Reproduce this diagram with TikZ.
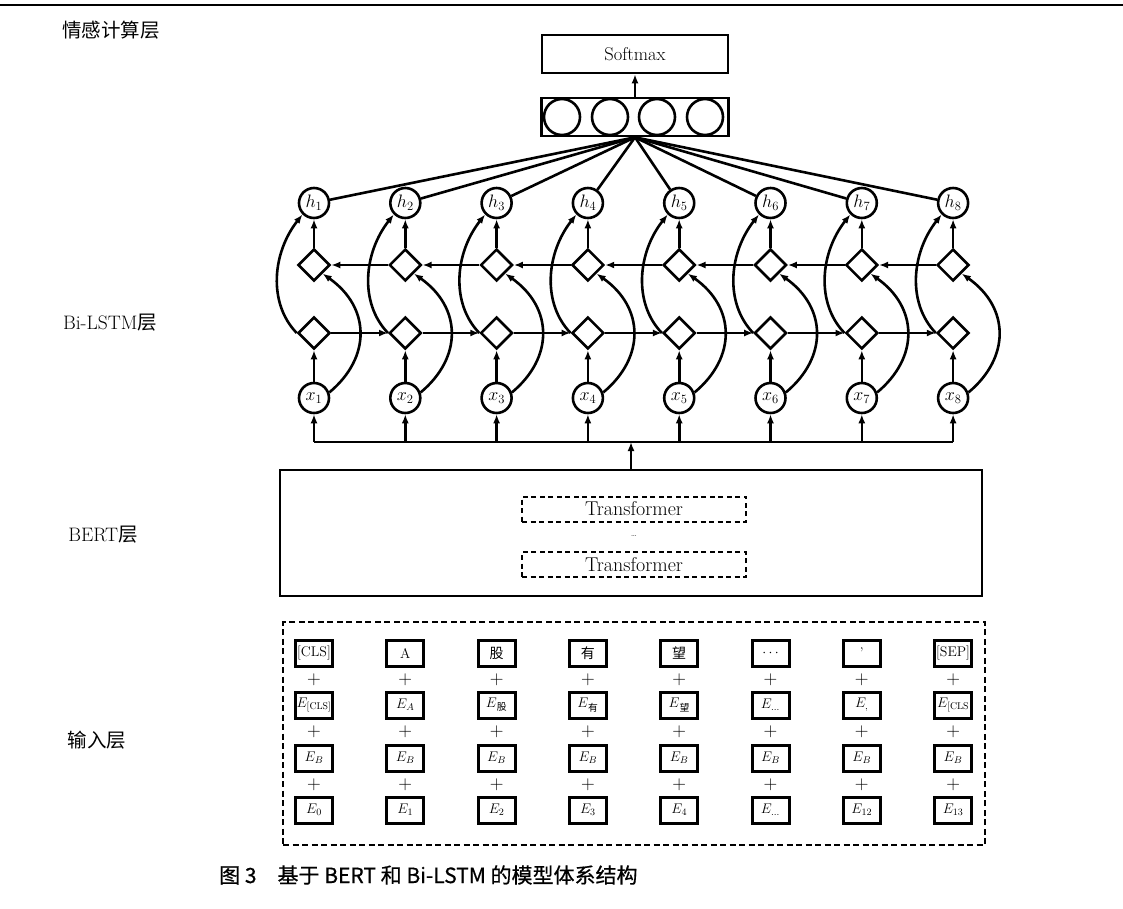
\RequirePackage{fix-cm}
\documentclass[tikz,border=0pt]{standalone}
\usepackage{fontspec}
\newfontfamily\cjk{Noto Sans CJK SC}
\newfontfamily\cjkcap{Noto Sans CJK SC}[FakeBold=0.6]
\usetikzlibrary{shapes.geometric,arrows.meta}
\tikzset{
  lw/.style={line width=2.6pt},
  arr/.style={lw,-{Latex[length=9pt,width=7pt]}},
  circnode/.style={circle,draw,lw,minimum size=30pt,inner sep=0pt,font=\fontsize{18}{18}\selectfont},
  dia/.style={diamond,draw,lw,minimum width=32pt,minimum height=32pt,inner sep=0pt},
  tok/.style={rectangle,draw,line width=3pt,minimum width=37pt,minimum height=26pt,inner sep=0pt,font=\fontsize{14}{14}\selectfont},
  plusnode/.style={inner sep=0pt,font=\fontsize{19}{19}\selectfont},
  lab/.style={font=\cjk\fontsize{19.5}{19.5}\selectfont},
  bigbox/.style={draw,lw,inner sep=0pt},
  dbox/.style={draw,line width=2pt,dash pattern=on 5pt off 3.5pt,inner sep=0pt},
}
\begin{document}
\begin{tikzpicture}[x=1pt,y=-1pt]
\useasboundingbox (0,0) rectangle (1123,908);
\fill[white] (0,0) rectangle (1123,908);
% top rule
\draw[line width=2.8pt] (0,5) -- (1123,5);
% left labels
\node[lab] (L1) at (111,30) {情感计算层};
\node[lab] (L2) at (110,323) {{\rmfamily Bi-LSTM}层};
\node[lab] (L3) at (103,535) {{\rmfamily BERT}层};
\node[lab] (L4) at (97,740) {输入层};
% softmax and output vector
\node[bigbox,minimum width=186pt,minimum height=38pt,font=\fontsize{18.5}{18.5}\selectfont] (sm) at (635,54) {Softmax};
\node[bigbox,minimum width=187pt,minimum height=38pt] (cb) at (635,117) {};
\foreach \k/\cx in {1/562,2/610,3/657,4/705}
  \node[circle,draw,lw,minimum size=36pt,inner sep=0pt] (c\k) at (\cx,117) {};
\draw[arr] (cb.north) -- (sm.south);
% Bi-LSTM nodes
\foreach \i in {1,...,8} {
  \pgfmathsetmacro{\X}{314+91.3*(\i-1)}
  \node[circnode] (h\i) at (\X,203) {$h_{\i}$};
  \node[dia] (u\i) at (\X,265) {};
  \node[dia] (l\i) at (\X,333) {};
  \node[circnode] (x\i) at (\X,398) {$x_{\i}$};
  \coordinate (b\i) at (\X,442);
}
\foreach \i in {1,...,8} {
  \draw[lw] (h\i) -- (cb.south);
  \draw[arr] (u\i.north) -- (h\i.south);
  \draw[arr] (x\i.north) -- (l\i.south);
  \draw[arr] (b\i) -- (x\i.south);
  \draw[arr] (l\i.west) .. controls +(-29,-30) and +(-30,38) .. (h\i.225);
  \draw[arr] (x\i.20) .. controls +(42,-35) and +(48,34) .. (u\i.south east);
}
\foreach \i [evaluate=\i as \j using int(\i+1)] in {1,...,7} {
  \draw[arr] (l\i.east) -- (l\j.west);
  \draw[arr] (u\j.west) -- (u\i.east);
}
\draw[lw] (b1) -- (b8);
% BERT layer
\node[bigbox,minimum width=702pt,minimum height=126pt] (bert) at (631,533) {};
\draw[arr] (bert.north) -- (bert.north |- b1);
\node[dbox,minimum width=224pt,minimum height=25pt,font=\fontsize{20}{20}\selectfont] (t1) at (634,509) {Transformer};
\node[dbox,minimum width=224pt,minimum height=25pt,font=\fontsize{20}{20}\selectfont] (t2) at (634,564.5) {Transformer};
\node[inner sep=0pt,font=\fontsize{9}{9}\selectfont] (tdots) at (634,536) {\ldots};
% input layer
\node[draw,line width=2.2pt,dash pattern=on 6pt off 3.5pt,minimum width=702pt,minimum height=223pt,inner sep=0pt] (inp) at (634,733.5) {};
\foreach \i/\a/\b/\c/\d in {
  1/{[CLS]}/{$E_{[\mathrm{CLS}]}$}/{$E_B$}/{$E_0$},
  2/{A}/{$E_A$}/{$E_B$}/{$E_1$},
  3/{\cjk 股}/{$E$\textsubscript{\cjk 股}}/{$E_B$}/{$E_2$},
  4/{\cjk 有}/{$E$\textsubscript{\cjk 有}}/{$E_B$}/{$E_3$},
  5/{\cjk 望}/{$E$\textsubscript{\cjk 望}}/{$E_B$}/{$E_4$},
  6/{$\cdots$}/{$E_{\ldots}$}/{$E_B$}/{$E_{\ldots}$},
  7/{’}/{$E_{,}$}/{$E_B$}/{$E_{12}$},
  8/{[SEP]}/{$E_{[\mathrm{CLS}}$}/{$E_B$}/{$E_{13}$}} {
  \pgfmathsetmacro{\X}{314+91.3*(\i-1)}
  \node[tok] (ta\i) at (\X,653) {\a};
  \node[tok] (tb\i) at (\X,705) {\b};
  \node[tok] (tc\i) at (\X,758) {\c};
  \node[tok] (td\i) at (\X,810) {\d};
  \node[plusnode] (pa\i) at (\X,680) {+};
  \node[plusnode] (pb\i) at (\X,732) {+};
  \node[plusnode] (pc\i) at (\X,785) {+};
}
% caption
\node[anchor=west,inner sep=0pt,font=\cjkcap\fontsize{21}{21}\selectfont] (cap) at (219,875) {图 3\quad 基于 BERT 和 Bi-LSTM 的模型体系结构};
\end{tikzpicture}
\end{document}
